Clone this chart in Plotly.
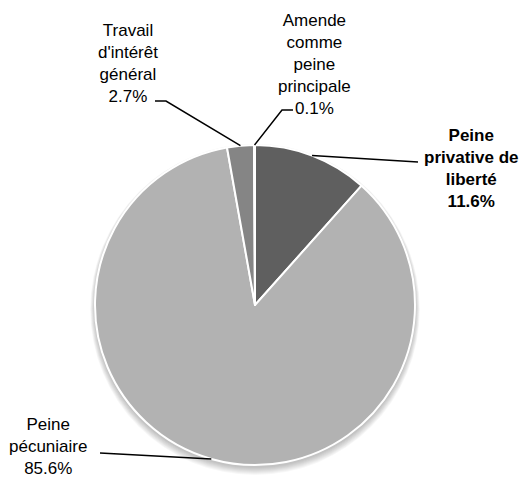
import math
import plotly.graph_objects as go

# Répartition des peines prononcées (en %)
categories = [
    "Peine privative de liberté",
    "Peine pécuniaire",
    "Travail d'intérêt général",
    "Amende comme peine principale",
]
values = [11.6, 85.6, 2.7, 0.1]
label_lines = [
    ["Peine", "privative de", "liberté"],
    ["Peine", "pécuniaire"],
    ["Travail", "d'intérêt", "général"],
    ["Amende", "comme", "peine", "principale"],
]
colors = ["#5f5f5f", "#b2b2b2", "#858585", "#d9d9d9"]

W, H = 528, 479
CX, CY, R = 255, 305, 160  # pie centre and radius in pixels


def px(x, y):
    """Pixel position (from top-left) -> paper coordinates."""
    return x / W, 1 - y / H


# label placement (centre x, centre y) and leader-line elbows, in pixels
label_pos = [(471, 168), (48, 446), (128, 63), (314, 64)]
leader_ends = [
    [(418, 162)],
    [(100, 453)],
    [(166, 101), (155, 101)],
    [(282, 110), (293, 110)],
]
bold = [True, False, False, False]

fig = go.Figure()

# soft drop shadow beneath the disc
for k in range(1, 9):
    x0, y0 = px(CX - R - k * 0.6, CY - R - k * 0.4 + 2)
    x1, y1 = px(CX + R + k * 0.6, CY + R + k + 2)
    fig.add_shape(
        type="circle", xref="paper", yref="paper",
        x0=x0, x1=x1, y0=y1, y1=y0,
        fillcolor="rgba(0,0,0,0.03)", line_width=0, layer="below",
    )

dx0, dy1 = px(CX - R, CY + R)
dx1, dy0 = px(CX + R, CY - R)
fig.add_trace(go.Pie(
    labels=categories,
    values=values,
    sort=False,
    direction="clockwise",
    rotation=0,
    marker=dict(colors=colors, line=dict(color="white", width=2)),
    textinfo="none",
    hoverinfo="label+percent",
    showlegend=False,
    domain=dict(x=[dx0, dx1], y=[dy1, dy0]),
))

total = sum(values)
cum = 0.0
for i, v in enumerate(values):
    mid = (cum + v / 2) / total * 2 * math.pi
    cum += v
    sx = CX + R * math.sin(mid)
    sy = CY - R * math.cos(mid)
    pts = [(sx, sy)] + leader_ends[i]
    path = ""
    for j, (x, y) in enumerate(pts):
        X, Y = px(x, y)
        path += ("M" if j == 0 else " L") + f" {X:.5f} {Y:.5f}"
    fig.add_shape(type="path", xref="paper", yref="paper", path=path,
                  line=dict(color="black", width=1.5))

    pct = f"{v:.1f}%"
    lines = label_lines[i] + [pct]
    text = "<br>".join(f"<b>{s}</b>" if bold[i] else s for s in lines)
    lx, ly = px(*label_pos[i])
    fig.add_annotation(
        x=lx, y=ly, xref="paper", yref="paper", text=text, showarrow=False,
        xanchor="center", yanchor="middle", align="center",
        font=dict(family="Liberation Sans, Arial, sans-serif", size=17, color="black"),
    )

fig.update_layout(
    width=W, height=H,
    margin=dict(l=0, r=0, t=0, b=0),
    paper_bgcolor="white", plot_bgcolor="white",
)

fig.write_html("out.html")
